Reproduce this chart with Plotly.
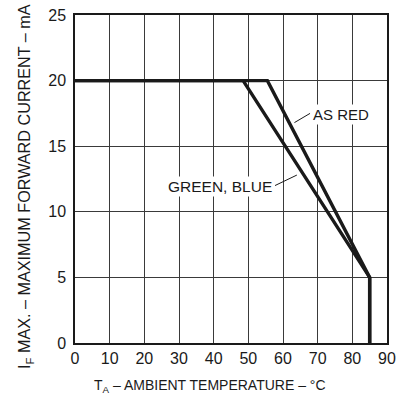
import plotly.graph_objects as go

# Data
red_x = [0, 55.5, 85, 85]
red_y = [20, 20, 5, 0]
gb_x = [0, 48.5, 85, 85]
gb_y = [20, 20, 5, 0]
x_ticks = [0, 10, 20, 30, 40, 50, 60, 70, 80, 90]
y_ticks = [0, 5, 10, 15, 20, 25]

FONT = "Liberation Sans, Arial, sans-serif"
INK = "#1a1a1a"

fig = go.Figure()
fig.add_trace(go.Scatter(x=gb_x, y=gb_y, mode="lines", hoverinfo="skip",
                         line=dict(color=INK, width=3.4), showlegend=False))
fig.add_trace(go.Scatter(x=red_x, y=red_y, mode="lines", hoverinfo="skip",
                         line=dict(color=INK, width=3.4), showlegend=False))

fig.update_layout(
    width=403, height=404,
    margin=dict(l=75, r=16, t=15, b=61),
    paper_bgcolor="white", plot_bgcolor="white",
    font=dict(family=FONT, size=15, color=INK),
    xaxis=dict(range=[0, 90], tickvals=x_ticks, showgrid=True, gridcolor="#3a3a3a",
               gridwidth=1, zeroline=False, showline=True, linecolor=INK,
               linewidth=1.5, mirror=True, ticks="", tickfont=dict(size=16),
               automargin=False),
    yaxis=dict(range=[0, 25], tickvals=y_ticks, showgrid=True, gridcolor="#3a3a3a",
               gridwidth=1, zeroline=False, showline=True, linecolor=INK,
               linewidth=1.5, mirror=True, ticks="", tickfont=dict(size=16),
               ticklabelstandoff=4, automargin=False),
)

# axis titles (paper coords: plot area is 312 x 328 px)
fig.add_annotation(xref="paper", yref="paper", x=-0.16, y=0.476,
                   text="I<sub>F</sub> MAX. – MAXIMUM FORWARD CURRENT – mA",
                   textangle=-90, showarrow=False, xanchor="center", yanchor="middle",
                   font=dict(size=16.2))
fig.add_annotation(xref="paper", yref="paper", x=0.433, y=-0.132,
                   text="T<sub>A</sub> – AMBIENT TEMPERATURE – °C",
                   showarrow=False, xanchor="center", yanchor="middle",
                   font=dict(size=14))

# curve labels
fig.add_annotation(x=68.2, y=17.4, text="AS RED", showarrow=False,
                   xanchor="left", yanchor="middle", font=dict(size=15),
                   bgcolor="white")
fig.add_shape(type="line", x0=63.3, y0=16.8, x1=67.8, y1=17.5,
              line=dict(color=INK, width=1))
fig.add_annotation(x=57.4, y=11.9, text="GREEN, BLUE", showarrow=False,
                   xanchor="right", yanchor="middle", font=dict(size=15.5),
                   bgcolor="white")
fig.add_shape(type="line", x0=57.7, y0=12.0, x1=64.0, y1=12.8,
              line=dict(color=INK, width=1))

fig.write_html("out.html", config={"displayModeBar": False},
               post_script="document.body.style.margin='0';document.body.style.overflow='hidden';")
